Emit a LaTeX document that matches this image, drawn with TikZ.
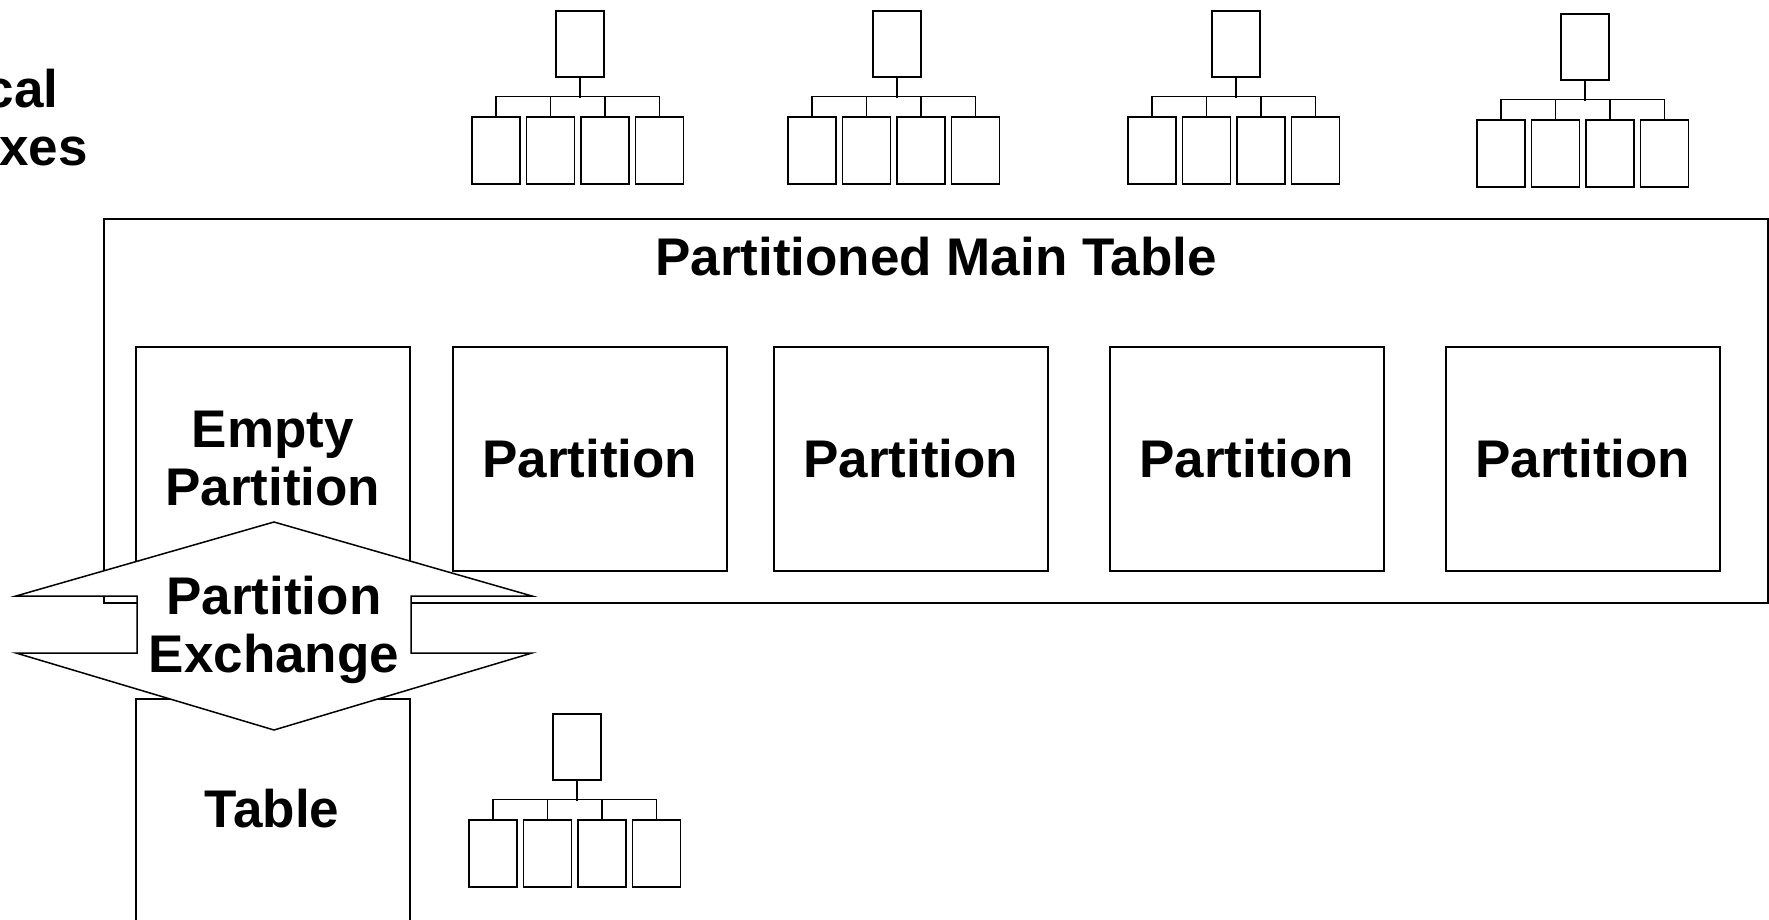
\documentclass[tikz,border=0pt]{standalone}
\usepackage{fontspec}
\setmainfont{Liberation Sans}
\newcommand{\idxgroup}[4]{% name, leaf-left, root-left, top
  \node[ibox, anchor=north west] (#1r) at (#3,#4) {};
  \foreach \k in {0,1,2,3}
    \node[ibox, anchor=north west, minimum height=67pt] (#1l\k) at ({#2+54.5*\k},{#4+106}) {};
  \draw[conn] (#1l0.north) -- ++(0,-19.5) -| (#1l3.north);
  \draw[conn] (#1l1.north) -- ++(0,-19.5);
  \draw[conn] (#1l2.north) -- ++(0,-19.5);
  \draw[conn] (#1r.south) -- ++(0,20.5);
}
\begin{document}
\begin{tikzpicture}[x=1pt,y=-1pt,
  bigtext/.style={font=\fontsize{53}{58}\selectfont\bfseries, inner sep=0pt, align=center},
  ibox/.style={draw, line width=1.6pt, fill=white, minimum width=48pt, minimum height=66pt, inner sep=0pt},
  conn/.style={line width=1.6pt},
  partbox/.style={draw, line width=1.5pt, fill=white, minimum width=274pt, minimum height=224pt, inner sep=0pt, anchor=north west},
  xarrow/.style={draw, line width=1.5pt, fill=white, line join=miter}
]
\useasboundingbox (0,0) rectangle (1769,919);

% main partitioned table frame
\node[draw, line width=1.5pt, minimum width=1664pt, minimum height=384pt, inner sep=0pt, anchor=north west] (main) at (103,218) {};
\node[bigtext] (maintitle) at (936,257) {Partitioned Main Table};

% partitions
\node[partbox] (p0) at (135,346) {};
\node[partbox] (p1) at (452,346) {};
\node[partbox] (p2) at (773,346) {};
\node[partbox] (p3) at (1109,346) {};
\node[partbox] (p4) at (1445,346) {};

% standalone table
\node[partbox, minimum height=225pt] (tbl) at (135,698) {};

% local index trees
\idxgroup{ga}{471}{555}{10}
\idxgroup{gb}{787}{872}{10}
\idxgroup{gc}{1127}{1211}{10}
\idxgroup{gd}{1476}{1560}{13}
\idxgroup{ge}{468}{552}{713}

% partition exchange double arrow
\draw[xarrow] (274,522) -- (532,596) -- (411,596) -- (411,653) -- (532,653)
  -- (274,730) -- (16,653) -- (137,653) -- (137,596) -- (16,596) -- cycle;

% texts
\node[bigtext] (loctxt) at (-11,118) {Local\\Indexes};
\node[bigtext] (p0txt) at (p0.center) {Empty\\Partition};
\node[bigtext] (p1txt) at (p1.center) {Partition};
\node[bigtext] (p2txt) at (p2.center) {Partition};
\node[bigtext] (p3txt) at (p3.center) {Partition};
\node[bigtext] (p4txt) at (p4.center) {Partition};
\node[bigtext] (xchg) at (274,630) {Partition\\Exchange};
\node[bigtext] (tbltxt) at (272,808.5) {Table};
\end{tikzpicture}
\end{document}
